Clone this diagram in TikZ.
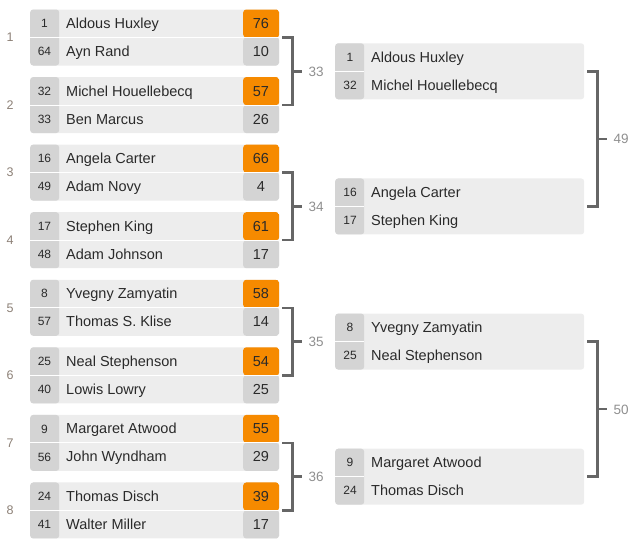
\documentclass[tikz,border=0pt]{standalone}
\usepackage{fontspec}
\setmainfont{Liberation Sans}
\usetikzlibrary{calc}
\definecolor{boxbg}{HTML}{EDEDED}
\definecolor{cellbg}{HTML}{D4D4D4}
\definecolor{win}{HTML}{F68A00}
\definecolor{txt}{HTML}{2A2A2A}
\definecolor{brk}{HTML}{666666}
\definecolor{lbl}{HTML}{8E8E8E}
\definecolor{rnd}{HTML}{8C8076}
\tikzset{
  matchbox/.style={rectangle, rounded corners=3pt, fill=boxbg, minimum width=249pt,
    minimum height=56pt, inner sep=0pt, anchor=north west},
  lbox/.style={matchbox, path picture={
    \fill[cellbg] (path picture bounding box.north west) rectangle ([xshift=29pt]path picture bounding box.south west);
    \fill[win] ([xshift=-36pt]path picture bounding box.north east) rectangle (path picture bounding box.east);
    \fill[cellbg] ([xshift=-36pt]path picture bounding box.east) rectangle (path picture bounding box.south east);
    \draw[white, line width=1pt] (path picture bounding box.west) -- (path picture bounding box.east);
  }},
  rbox/.style={matchbox, path picture={
    \fill[cellbg] (path picture bounding box.north west) rectangle ([xshift=29pt]path picture bounding box.south west);
    \draw[white, line width=1pt] (path picture bounding box.west) -- ([xshift=29pt]path picture bounding box.west);
  }},
  seedt/.style={font=\fontsize{12}{12}\selectfont, text=txt, inner sep=0pt, text height=8.6pt, text depth=0pt},
  namet/.style={font=\fontsize{14.5}{16}\selectfont, text=txt, inner sep=0pt, text height=10.4pt, text depth=0pt, anchor=west},
  scoret/.style={font=\fontsize{14.5}{16}\selectfont, text=txt, inner sep=0pt, text height=10.4pt, text depth=0pt},
  roundt/.style={font=\fontsize{12.5}{13}\selectfont, text=rnd, inner sep=0pt, text height=9pt, text depth=0pt},
  blabel/.style={font=\fontsize{13.5}{14}\selectfont, text=lbl, inner sep=0pt, text height=9.7pt, text depth=0pt, anchor=west},
  bracket/.style={draw=brk, line width=2.5pt, line cap=butt, line join=miter},
}
\begin{document}
\begin{tikzpicture}[x=1pt,y=-1pt]
\useasboundingbox (0,0) rectangle (635,546);
% first round
\foreach \i/\sa/\na/\pa/\sb/\nb/\pb in {
  1/1/Aldous Huxley/76/64/Ayn Rand/10,
  2/32/Michel Houellebecq/57/33/Ben Marcus/26,
  3/16/Angela Carter/66/49/Adam Novy/4,
  4/17/Stephen King/61/48/Adam Johnson/17,
  5/8/Yvegny Zamyatin/58/57/Thomas S. Klise/14,
  6/25/Neal Stephenson/54/40/Lowis Lowry/25,
  7/9/Margaret Atwood/55/56/John Wyndham/29,
  8/24/Thomas Disch/39/41/Walter Miller/17}{
  \pgfmathsetmacro\T{9.3+67.57*(\i-1)}
  \node[lbox] (m\i) at (30,\T) {};
  \node[seedt] (m\i-sa) at (44.5,\T+14) {\sa};
  \node[namet] (m\i-na) at (66,\T+14) {\na};
  \node[scoret] (m\i-pa) at (261,\T+14) {\pa};
  \node[seedt] (m\i-sb) at (44.5,\T+42) {\sb};
  \node[namet] (m\i-nb) at (66,\T+42) {\nb};
  \node[scoret] (m\i-pb) at (261,\T+42) {\pb};
  \node[roundt] (rl\i) at (10,\T+28) {\i};
}
% second round
\foreach \j/\sa/\na/\sb/\nb in {
  1/1/Aldous Huxley/32/Michel Houellebecq,
  2/16/Angela Carter/17/Stephen King,
  3/8/Yvegny Zamyatin/25/Neal Stephenson,
  4/9/Margaret Atwood/24/Thomas Disch}{
  \pgfmathsetmacro\T{9.3+67.57*(2*\j-2)+33.8}
  \node[rbox] (r\j) at (335,\T) {};
  \node[seedt] (r\j-sa) at (350,\T+14) {\sa};
  \node[namet] (r\j-na) at (371,\T+14) {\na};
  \node[seedt] (r\j-sb) at (350,\T+42) {\sb};
  \node[namet] (r\j-nb) at (371,\T+42) {\nb};
}
% brackets
\foreach \a/\b/\n in {m1/m2/33, m3/m4/34, m5/m6/35, m7/m8/36, r1/r2/49, r3/r4/50}{
  \draw[bracket] ([xshift=3pt]\a.east) -- ++(10,0) |- ([xshift=3pt]\b.east);
  \path ([xshift=13pt]\a.east) -- ([xshift=13pt]\b.east) coordinate[midway] (j\n);
  \node[blabel] (l\n) at ([xshift=16pt]j\n) {\n};
  \draw[bracket] (j\n) -- ([xshift=-6pt]l\n.west);
}
\end{tikzpicture}
\end{document}
